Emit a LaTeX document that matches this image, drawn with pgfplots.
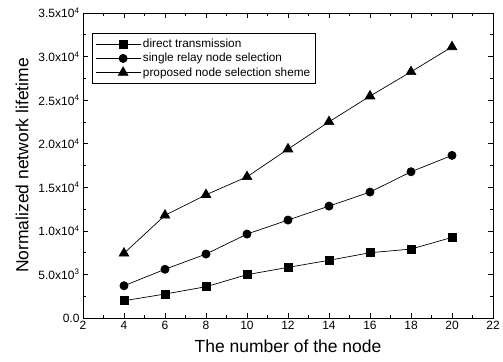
\documentclass[border=0pt]{standalone}
\usepackage{pgfplots}
\pgfplotsset{compat=1.18}
\usepackage{fontspec}
\setmainfont{Liberation Sans}
\begin{document}
\begin{tikzpicture}
\begin{axis}[
  scale only axis,
  width=410pt, height=305pt,
  xmin=2, xmax=22, ymin=0, ymax=35000,
  scaled y ticks=false,
  xtick={2,4,...,22},
  minor x tick num=1,
  ytick={0,5000,10000,15000,20000,25000,30000,35000},
  yticklabels={0.0,5.0x10\textsuperscript{3},1.0x10\textsuperscript{4},1.5x10\textsuperscript{4},2.0x10\textsuperscript{4},2.5x10\textsuperscript{4},3.0x10\textsuperscript{4},3.5x10\textsuperscript{4}},
  minor y tick num=1,
  tick align=inside,
  major tick length=5pt, minor tick length=3pt,
  tick style={black, line width=0.7pt},
  axis line style={line width=0.9pt},
  /pgf/number format/assume math mode=true,
  ticklabel style={font=\fontsize{12}{14}\selectfont},
  xlabel={The number of the node},
  ylabel={Normalized network lifetime},
  label style={font=\fontsize{17.5}{20}\selectfont},
  xlabel style={yshift=-3pt},
  ylabel style={yshift=3pt},
  legend style={at={(0.022,0.934)}, anchor=north west, font=\fontsize{11.8}{14.5}\selectfont, draw=black, line width=0.5pt, inner xsep=3pt, inner ysep=4pt, row sep=0pt, cells={anchor=west}},
  legend cell align=left,
  legend image code/.code={
    \path (0pt,0pt) -- (45pt,0pt);
    \draw[#1, mark repeat=2, mark phase=2] plot coordinates {(12pt,0pt) (27.5pt,0pt) (43pt,0pt)};
  },
]
\addplot[black, line width=0.7pt, mark=square*, mark size=4pt, mark options={solid}] coordinates {
(4,1980) (6,2750) (8,3590) (10,4970) (12,5810) (14,6620) (16,7490) (18,7910) (20,9250)};
\addlegendentry{direct transmission}
\addplot[black, line width=0.7pt, mark=*, mark size=4.1pt] coordinates {
(4,3700) (6,5590) (8,7340) (10,9630) (12,11240) (14,12840) (16,14450) (18,16780) (20,18660)};
\addlegendentry{single relay node selection}
\addplot[black, line width=0.7pt, mark=triangle*, mark size=5.6pt] coordinates {
(4,7420) (6,11780) (8,14140) (10,16200) (12,19380) (14,22510) (16,25460) (18,28250) (20,31110)};
\addlegendentry{proposed node selection sheme\hspace{11pt}}
\end{axis}
\pgfresetboundingbox
\path[use as bounding box] ([shift={(-83pt,-44pt)}]current axis.south west) rectangle ([shift={(10pt,13pt)}]current axis.north east);
\end{tikzpicture}
\end{document}
